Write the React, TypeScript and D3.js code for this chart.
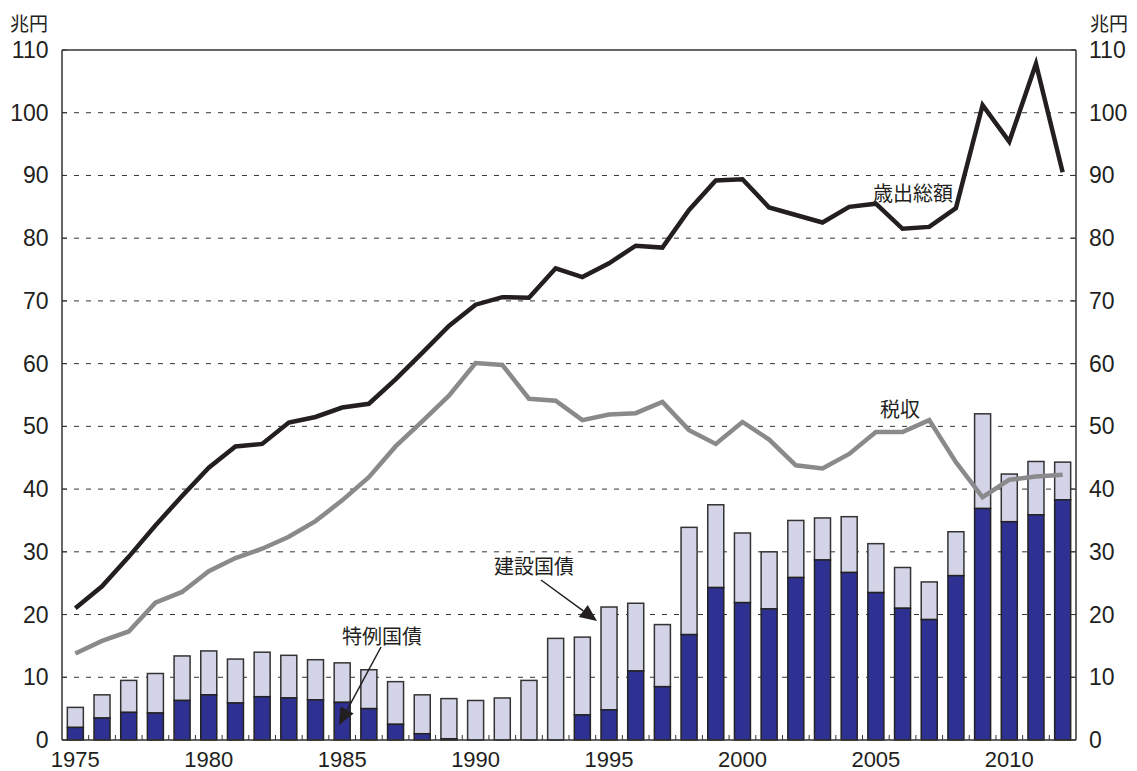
import React from "react";
import * as d3 from "d3";

const years = d3.range(1975, 2013);
// 特例国債 (dark, bottom of stack)
const tokurei = [2.0, 3.5, 4.4, 4.3, 6.3, 7.2, 5.9, 6.9, 6.7, 6.4, 6.0, 5.0, 2.5, 1.0, 0.2, 0, 0, 0, 0, 4.0, 4.8, 11.0, 8.5, 16.8, 24.3, 21.9, 20.9, 25.9, 28.7, 26.7, 23.5, 21.0, 19.2, 26.2, 36.9, 34.8, 35.9, 38.3];
// total bond issuance (bar top)
const bondTotal = [5.2, 7.2, 9.5, 10.6, 13.4, 14.2, 12.9, 14.0, 13.5, 12.8, 12.3, 11.2, 9.3, 7.2, 6.6, 6.3, 6.7, 9.5, 16.2, 16.4, 21.2, 21.8, 18.4, 33.9, 37.5, 33.0, 30.0, 35.0, 35.4, 35.6, 31.3, 27.5, 25.2, 33.2, 52.0, 42.4, 44.4, 44.3];
// 建設国債 = total - 特例国債
const kensetsu = bondTotal.map((t, i) => +(t - tokurei[i]).toFixed(1));
// 歳出総額
const expenditure = [21.0, 24.5, 29.2, 34.2, 38.9, 43.4, 46.8, 47.2, 50.6, 51.5, 53.0, 53.6, 57.5, 61.7, 66.0, 69.4, 70.6, 70.5, 75.2, 73.8, 76.0, 78.8, 78.5, 84.5, 89.2, 89.4, 84.9, 83.7, 82.5, 85.0, 85.5, 81.5, 81.8, 84.8, 101.2, 95.4, 107.8, 90.5];
// 税収
const taxRevenue = [13.8, 15.8, 17.3, 21.9, 23.6, 26.9, 29.0, 30.5, 32.4, 34.9, 38.2, 41.9, 46.8, 50.8, 54.9, 60.1, 59.8, 54.4, 54.1, 51.0, 51.9, 52.1, 53.9, 49.4, 47.2, 50.7, 47.9, 43.8, 43.3, 45.6, 49.1, 49.1, 51.0, 44.3, 38.7, 41.5, 42.0, 42.3];
const yTicks = [0, 10, 20, 30, 40, 50, 60, 70, 80, 90, 100, 110];
const xTickYears = [1975, 1980, 1985, 1990, 1995, 2000, 2005, 2010];

const W = 1137, H = 771;
const L = 62, R = 1076, T = 50, B = 740;
const textColor = "#231f20";
const numFont = "'Liberation Sans', Arial, sans-serif";
const jpFont = "'Noto Sans CJK JP', sans-serif";

export default function App() {
  const x = d3.scaleBand<number>().domain(years).range([L, R]).paddingInner(0.4).paddingOuter(0.2);
  const y = d3.scaleLinear().domain([0, 110]).range([B, T]);
  const step = x.step();
  const cx = (yr: number) => (x(yr) as number) + x.bandwidth() / 2;

  const line = d3.line<number>().x((_, i) => cx(years[i])).y((d) => y(d));

  const arrow = (x1: number, y1: number, x2: number, y2: number, len = 17, half = 7.5) => {
    const ang = Math.atan2(y2 - y1, x2 - x1);
    const bx = x2 - len * Math.cos(ang), by = y2 - len * Math.sin(ang);
    const px = -Math.sin(ang) * half, py = Math.cos(ang) * half;
    return (
      <g>
        <line x1={x1} y1={y1} x2={bx} y2={by} stroke={textColor} strokeWidth={1.5} />
        <path d={`M${x2},${y2}L${bx + px},${by + py}L${bx - px},${by - py}Z`} fill={textColor} />
      </g>
    );
  };

  return (
    <svg width={W} height={H} style={{ position: "absolute", left: 0, top: 0, background: "#fff" }}>
      {/* gridlines */}
      {yTicks.filter((t) => t > 0 && t < 110).map((t) => (
        <line key={"g" + t} x1={L} x2={R} y1={y(t)} y2={y(t)} stroke="#333" strokeWidth={1} strokeDasharray="5,7" />
      ))}
      {/* bars */}
      {years.map((yr, i) => (
        <g key={"b" + yr}>
          <rect x={x(yr)} y={y(bondTotal[i])} width={x.bandwidth()} height={y(tokurei[i]) - y(bondTotal[i])} fill="#d4d4e8" stroke="#333" strokeWidth={1.5} />
          {tokurei[i] > 0 && (
            <rect x={x(yr)} y={y(tokurei[i])} width={x.bandwidth()} height={B - y(tokurei[i])} fill="#2e3192" stroke="#222" strokeWidth={1.5} />
          )}
        </g>
      ))}
      {/* lines */}
      <path d={line(taxRevenue) || ""} fill="none" stroke="#8a8a8c" strokeWidth={4.5} strokeLinejoin="miter" />
      <path d={line(expenditure) || ""} fill="none" stroke="#231f20" strokeWidth={4.5} strokeLinejoin="miter" />
      {/* frame */}
      <line x1={L} x2={R} y1={T} y2={T} stroke="#333" strokeWidth={1.5} />
      <line x1={L} x2={L} y1={T} y2={B} stroke="#333" strokeWidth={1.5} />
      <line x1={R} x2={R} y1={T} y2={B} stroke="#333" strokeWidth={1.5} />
      <line x1={L} x2={R} y1={B} y2={B} stroke="#333" strokeWidth={1.5} />
      {/* y ticks */}
      {yTicks.map((t) => (
        <g key={"yt" + t}>
          <line x1={L} x2={L + 5} y1={y(t)} y2={y(t)} stroke="#333" strokeWidth={1} />
          <line x1={R - 5} x2={R} y1={y(t)} y2={y(t)} stroke="#333" strokeWidth={1} />
          <text x={48.5} y={y(t)} textAnchor="end" dominantBaseline="central" fontFamily={numFont} fontSize={23} fill={textColor}>{t}</text>
          <text x={1089} y={y(t)} textAnchor="start" dominantBaseline="central" fontFamily={numFont} fontSize={23} fill={textColor}>{t}</text>
        </g>
      ))}
      {/* x boundary ticks */}
      {years.slice(1).map((yr) => {
        const bx = (x(yr) as number) - step * 0.2;
        return <line key={"xt" + yr} x1={bx} x2={bx} y1={B} y2={B - 5} stroke="#333" strokeWidth={1} />;
      })}
      {xTickYears.map((yr) => (
        <text key={"xl" + yr} x={cx(yr)} y={759} textAnchor="middle" dominantBaseline="central" fontFamily={numFont} fontSize={22} fill={textColor}>{yr}</text>
      ))}
      {/* unit labels */}
      <text x={10} y={22} dominantBaseline="central" fontFamily={jpFont} fontSize={19} fill={textColor}>兆円</text>
      <text x={1090} y={22} dominantBaseline="central" fontFamily={jpFont} fontSize={19} fill={textColor}>兆円</text>
      {/* annotations */}
      <text x={873} y={192} dominantBaseline="central" fontFamily={jpFont} fontSize={20} fill={textColor}>歳出総額</text>
      <text x={880} y={408} dominantBaseline="central" fontFamily={jpFont} fontSize={20} fill={textColor}>税収</text>
      <text x={494} y={565} dominantBaseline="central" fontFamily={jpFont} fontSize={20} fill={textColor}>建設国債</text>
      <text x={342} y={635} dominantBaseline="central" fontFamily={jpFont} fontSize={20} fill={textColor}>特例国債</text>
      {arrow(541, 580, 597, 621)}
      {arrow(381, 647, 339, 725)}
    </svg>
  );
}
